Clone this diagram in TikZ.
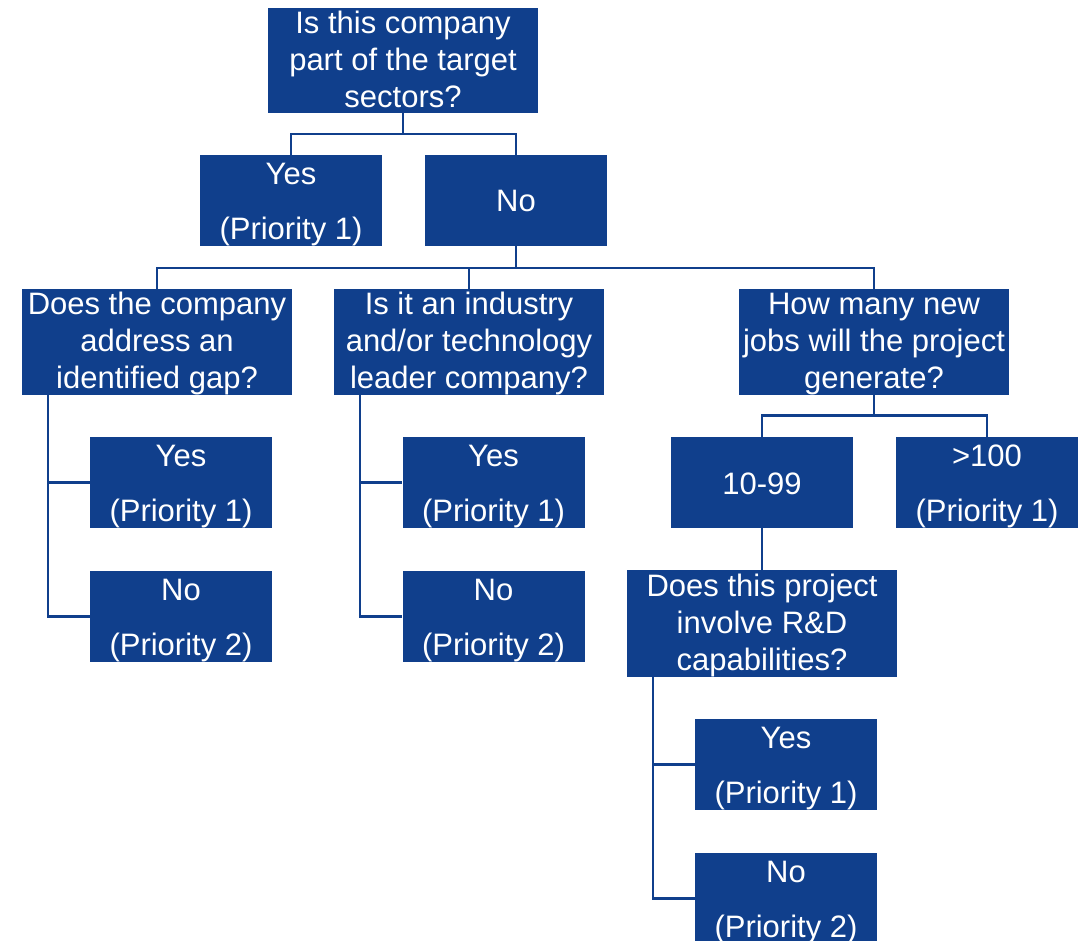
\documentclass[tikz,border=0pt]{standalone}
\usepackage{fontspec}
\setmainfont{Liberation Sans}
\definecolor{boxblue}{RGB}{16,63,140}
\newcommand{\qstrut}{\rule[-5pt]{0pt}{31pt}}
\newcommand{\astrut}{\rule[-6pt]{0pt}{36pt}}
\newcommand{\sstrut}{\rule[-34pt]{0pt}{91pt}}
\tikzset{
  qbox/.style={fill=boxblue, draw=none, text=white, minimum width=270pt, minimum height=106pt,
    inner sep=0pt, align=center, font=\fontsize{31}{37}\selectfont},
  abox/.style={fill=boxblue, draw=none, text=white, minimum width=182pt, minimum height=91pt,
    inner sep=0pt, align=center, font=\fontsize{31}{55}\selectfont},
  link/.style={draw=boxblue, line width=2.5pt}
}
\begin{document}
\begin{tikzpicture}[x=1pt,y=-1pt]
\useasboundingbox (0,0) rectangle (1084,941);
\clip (0,0) rectangle (1084,941);
% level 0
\node[qbox, minimum height=105pt] (top) at (403,60.5) {\qstrut Is this company\\\qstrut part of the target\\\qstrut sectors?};
% level 1
\node[abox] (yes1) at (291,200.5) {\astrut Yes\\\astrut (Priority 1)};
\node[abox] (no1) at (516,200.5) {\sstrut No};
% level 2 questions
\node[qbox] (q1) at (157,342) {\qstrut Does the company\\\qstrut address an\\\qstrut identified gap?};
\node[qbox] (q2) at (469,342) {\qstrut Is it an industry\\\qstrut and/or technology\\\qstrut leader company?};
\node[qbox] (q3) at (874,342) {\qstrut How many new\\\qstrut jobs will the project\\\qstrut generate?};
% answers under q1, q2
\node[abox] (y2) at (181,482.5) {\astrut Yes\\\astrut (Priority 1)};
\node[abox] (n2) at (181,616.5) {\astrut No\\\astrut (Priority 2)};
\node[abox] (y3) at (493.5,482.5) {\astrut Yes\\\astrut (Priority 1)};
\node[abox] (n3) at (493.5,616.5) {\astrut No\\\astrut (Priority 2)};
% answers under q3
\node[abox] (c10) at (762,482.5) {\sstrut 10-99};
\node[abox] (c100) at (987,482.5) {\astrut >100\\\astrut (Priority 1)};
% R&D question
\node[qbox, minimum height=105pt] (q4) at (762,623.5) {\qstrut Does this project\\\qstrut involve R\&D\\\qstrut capabilities?};
\node[abox] (y4) at (786,764.5) {\astrut Yes\\\astrut (Priority 1)};
\node[abox] (n4) at (786,898.5) {\astrut No\\\astrut (Priority 2)};
% connectors
\draw[link] (top.south) -- ++(0,21) -| (yes1.north);
\draw[link] (top.south) -- ++(0,21) -| (no1.north);
\draw[link] (no1.south) -- ++(0,22) -| (q1.north);
\draw[link] (no1.south) -- ++(0,22) -| (q2.north);
\draw[link] (no1.south) -- ++(0,22) -| (q3.north);
\draw[link] ([xshift=26pt]q1.south west) |- (y2.west);
\draw[link] ([xshift=26pt]q1.south west) |- (n2.west);
\draw[link] ([xshift=26pt]q2.south west) |- (y3.west);
\draw[link] ([xshift=26pt]q2.south west) |- (n3.west);
\draw[link] (q3.south) -- ++(0,20) -| (c10.north);
\draw[link] (q3.south) -- ++(0,20) -| (c100.north);
\draw[link] (c10.south) -- (q4.north);
\draw[link] ([xshift=26pt]q4.south west) |- (y4.west);
\draw[link] ([xshift=26pt]q4.south west) |- (n4.west);
\end{tikzpicture}
\end{document}
